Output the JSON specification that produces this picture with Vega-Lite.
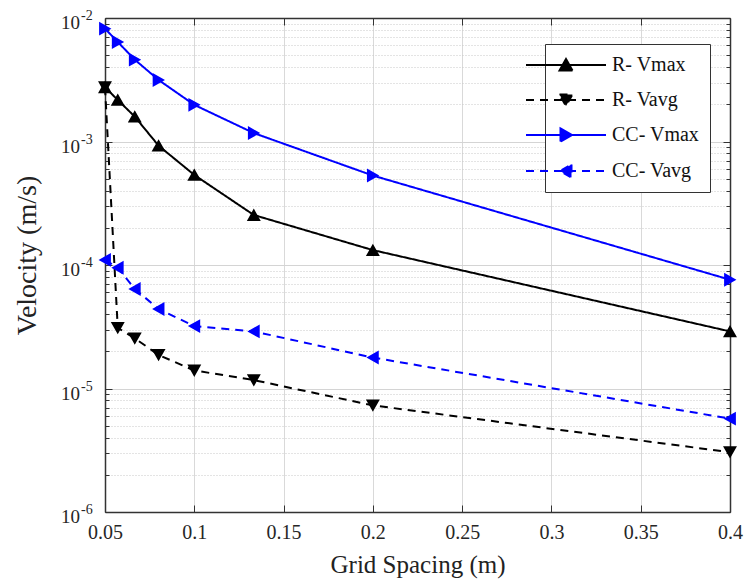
{
  "$schema": "https://vega.github.io/schema/vega-lite/v6.json",
  "width": 625,
  "height": 494,
  "autosize": "none",
  "padding": {"left": 105, "top": 18, "right": 16, "bottom": 73},
  "background": "white",
  "config": {
    "view": {"stroke": null},
    "font": "Liberation Serif",
    "axis": {"labelFont": "Liberation Serif", "titleFont": "Liberation Serif", "titleFontWeight": "normal", "titleColor": "#222222", "labelColor": "#262626"}
  },
  "datasets": {
    "pts": [
      {"x": 0.05, "series": "R- Vmax", "v": 0.00275},
      {"x": 0.05714, "series": "R- Vmax", "v": 0.00217},
      {"x": 0.06667, "series": "R- Vmax", "v": 0.00159},
      {"x": 0.08, "series": "R- Vmax", "v": 0.000925},
      {"x": 0.1, "series": "R- Vmax", "v": 0.000536},
      {"x": 0.13333, "series": "R- Vmax", "v": 0.000254},
      {"x": 0.2, "series": "R- Vmax", "v": 0.000132},
      {"x": 0.4, "series": "R- Vmax", "v": 0.0000290},
      {"x": 0.05, "series": "R- Vavg", "v": 0.00275},
      {"x": 0.05714, "series": "R- Vavg", "v": 0.0000310},
      {"x": 0.06667, "series": "R- Vavg", "v": 0.0000255},
      {"x": 0.08, "series": "R- Vavg", "v": 0.0000187},
      {"x": 0.1, "series": "R- Vavg", "v": 0.0000140},
      {"x": 0.13333, "series": "R- Vavg", "v": 0.0000117},
      {"x": 0.2, "series": "R- Vavg", "v": 0.0000073},
      {"x": 0.4, "series": "R- Vavg", "v": 0.00000305},
      {"x": 0.05, "series": "CC- Vmax", "v": 0.0082},
      {"x": 0.05714, "series": "CC- Vmax", "v": 0.0064},
      {"x": 0.06667, "series": "CC- Vmax", "v": 0.0046},
      {"x": 0.08, "series": "CC- Vmax", "v": 0.00315},
      {"x": 0.1, "series": "CC- Vmax", "v": 0.00198},
      {"x": 0.13333, "series": "CC- Vmax", "v": 0.00117},
      {"x": 0.2, "series": "CC- Vmax", "v": 0.00053},
      {"x": 0.4, "series": "CC- Vmax", "v": 0.000076},
      {"x": 0.05, "series": "CC- Vavg", "v": 0.000110},
      {"x": 0.05714, "series": "CC- Vavg", "v": 0.0000950},
      {"x": 0.06667, "series": "CC- Vavg", "v": 0.0000640},
      {"x": 0.08, "series": "CC- Vavg", "v": 0.0000440},
      {"x": 0.1, "series": "CC- Vavg", "v": 0.0000320},
      {"x": 0.13333, "series": "CC- Vavg", "v": 0.0000290},
      {"x": 0.2, "series": "CC- Vavg", "v": 0.0000178},
      {"x": 0.4, "series": "CC- Vavg", "v": 0.0000057}
    ],
    "ylab": [
      {"v": 0.01, "base": "10", "e": "-2"},
      {"v": 0.001, "base": "10", "e": "-3"},
      {"v": 0.0001, "base": "10", "e": "-4"},
      {"v": 0.00001, "base": "10", "e": "-5"},
      {"v": 0.000001, "base": "10", "e": "-6"}
    ]
  },
  "layer": [
    {
      "data": {"name": "pts"},
      "mark": {"type": "line", "strokeWidth": 2},
      "encoding": {
        "x": {
          "field": "x", "type": "quantitative",
          "scale": {"domain": [0.05, 0.4], "nice": false, "zero": false},
          "axis": {
            "orient": "bottom",
            "values": [0.05, 0.1, 0.15, 0.2, 0.25, 0.3, 0.35, 0.4],
            "format": "~g",
            "labelFontSize": 20,
            "labelPadding": 17,
            "labelFlush": false,
            "labelOverlap": false,
            "labelBound": false,
            "tickSize": -7,
            "tickColor": "#333333",
            "domainColor": "#333333",
            "domainWidth": 1.5,
            "grid": true,
            "gridColor": "#d9d9d9",
            "gridWidth": 1,
            "title": "Grid Spacing (m)",
            "titleFontSize": 25,
            "titleY": 60,
            "titleBaseline": "alphabetic"
          }
        },
        "y": {
          "field": "v", "type": "quantitative",
          "scale": {"type": "log", "domain": [0.000001, 0.01], "nice": false},
          "axis": {
            "orient": "left",
            "values": [0.000001, 0.000002, 0.000003, 0.000004, 0.000005, 0.000006, 0.000007, 0.000008, 0.000009,
                       0.00001, 0.00002, 0.00003, 0.00004, 0.00005, 0.00006, 0.00007, 0.00008, 0.00009,
                       0.0001, 0.0002, 0.0003, 0.0004, 0.0005, 0.0006, 0.0007, 0.0008, 0.0009,
                       0.001, 0.002, 0.003, 0.004, 0.005, 0.006, 0.007, 0.008, 0.009, 0.01],
            "labels": false,
            "tickSize": {"condition": {"test": "abs(log(datum.value)/LN10 - round(log(datum.value)/LN10)) < 0.001", "value": -7}, "value": -4},
            "tickColor": "#333333",
            "domainColor": "#333333",
            "domainWidth": 1.5,
            "grid": true,
            "gridColor": {"condition": {"test": "abs(log(datum.value)/LN10 - round(log(datum.value)/LN10)) < 0.001", "value": "#d4d4d4"}, "value": "#c8c8c8"},
            "gridDash": {"condition": {"test": "abs(log(datum.value)/LN10 - round(log(datum.value)/LN10)) < 0.001", "value": []}, "value": [1, 2]},
            "gridWidth": 1,
            "title": "Velocity (m/s)",
            "titleFontSize": 28,
            "titleX": -78,
            "titleY": 237,
            "titleAngle": 270,
            "titleAlign": "center",
            "titleBaseline": "middle"
          }
        },
        "color": {
          "field": "series", "type": "nominal",
          "scale": {"domain": ["R- Vmax", "R- Vavg", "CC- Vmax", "CC- Vavg"], "range": ["#000000", "#000000", "#0000ff", "#0000ff"]},
          "legend": {
            "orient": "none",
            "legendX": 440,
            "legendY": 26,
            "title": null,
            "strokeColor": "#333333",
            "fillColor": "white",
            "padding": 10,
            "labelFont": "Liberation Serif",
            "labelFontSize": 20,
            "labelColor": "#111111",
            "labelOffset": 35,
            "symbolSize": 400,
            "symbolStrokeWidth": 2,
            "symbolOpacity": 1,
            "rowPadding": 14
          }
        },
        "strokeDash": {
          "field": "series", "type": "nominal",
          "scale": {"domain": ["R- Vmax", "R- Vavg", "CC- Vmax", "CC- Vavg"], "range": [[1, 0], [8, 6], [1, 0], [8, 6]]}
        }
      }
    },
    {
      "data": {"name": "pts"},
      "mark": {"type": "point", "filled": true, "opacity": 1, "size": 460},
      "encoding": {
        "x": {
          "field": "x", "type": "quantitative",
          "scale": {"domain": [0.05, 0.4], "nice": false, "zero": false},
          "axis": {
            "orient": "top",
            "values": [0.05, 0.1, 0.15, 0.2, 0.25, 0.3, 0.35, 0.4],
            "labels": false,
            "tickSize": -7,
            "tickColor": "#333333",
            "domainColor": "#333333",
            "domainWidth": 1.5,
            "grid": false,
            "title": null
          }
        },
        "y": {
          "field": "v", "type": "quantitative",
          "scale": {"type": "log", "domain": [0.000001, 0.01], "nice": false},
          "axis": {
            "orient": "right",
            "values": [0.000001, 0.000002, 0.000003, 0.000004, 0.000005, 0.000006, 0.000007, 0.000008, 0.000009,
                       0.00001, 0.00002, 0.00003, 0.00004, 0.00005, 0.00006, 0.00007, 0.00008, 0.00009,
                       0.0001, 0.0002, 0.0003, 0.0004, 0.0005, 0.0006, 0.0007, 0.0008, 0.0009,
                       0.001, 0.002, 0.003, 0.004, 0.005, 0.006, 0.007, 0.008, 0.009, 0.01],
            "labels": false,
            "tickSize": {"condition": {"test": "abs(log(datum.value)/LN10 - round(log(datum.value)/LN10)) < 0.001", "value": -7}, "value": -4},
            "tickColor": "#333333",
            "domainColor": "#333333",
            "domainWidth": 1.5,
            "grid": false,
            "title": null
          }
        },
        "color": {
          "field": "series", "type": "nominal",
          "scale": {"domain": ["R- Vmax", "R- Vavg", "CC- Vmax", "CC- Vavg"], "range": ["#000000", "#000000", "#0000ff", "#0000ff"]}
        },
        "shape": {
          "field": "series", "type": "nominal",
          "scale": {
            "domain": ["R- Vmax", "R- Vavg", "CC- Vmax", "CC- Vavg"],
            "range": [
              "M-4,0L4,0M-0.65,0.55L0.65,0.55L0,-0.6Z",
              "M-4,0L4,0M-0.65,-0.55L0.65,-0.55L0,0.6Z",
              "M-4,0L4,0M-0.55,-0.65L-0.55,0.65L0.6,0Z",
              "M-4,0L4,0M0.55,-0.65L0.55,0.65L-0.6,0Z"
            ]
          }
        }
      }
    },
    {
      "data": {"name": "ylab"},
      "mark": {"type": "text", "align": "right", "baseline": "middle", "dx": -25, "dy": 5, "fontSize": 19, "font": "Liberation Serif", "color": "#262626"},
      "encoding": {
        "x": {"datum": 0.05, "type": "quantitative", "scale": {"domain": [0.05, 0.4], "nice": false, "zero": false}, "axis": null},
        "y": {"field": "v", "type": "quantitative", "scale": {"type": "log", "domain": [0.000001, 0.01], "nice": false}, "axis": null},
        "text": {"field": "base"}
      }
    },
    {
      "data": {"name": "ylab"},
      "mark": {"type": "text", "align": "left", "baseline": "middle", "dx": -24, "dy": -2, "fontSize": 14, "font": "Liberation Serif", "color": "#262626"},
      "encoding": {
        "x": {"datum": 0.05, "type": "quantitative", "scale": {"domain": [0.05, 0.4], "nice": false, "zero": false}, "axis": null},
        "y": {"field": "v", "type": "quantitative", "scale": {"type": "log", "domain": [0.000001, 0.01], "nice": false}, "axis": null},
        "text": {"field": "e"}
      }
    }
  ],
  "resolve": {"axis": {"x": "independent", "y": "independent"}}
}
